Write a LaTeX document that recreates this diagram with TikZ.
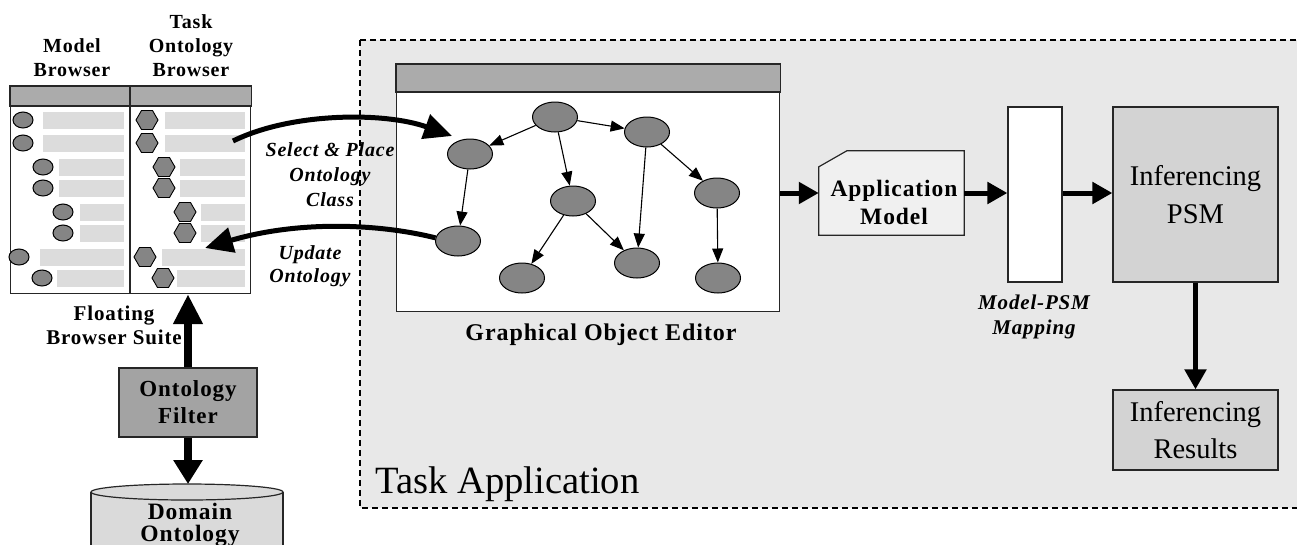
\documentclass[tikz,border=0pt]{standalone}
\usepackage{fontspec}
\setmainfont{Liberation Serif}
\newfontfamily\bl{Liberation Serif}[LetterSpace=4]
\usetikzlibrary{arrows.meta,shapes.geometric}
\definecolor{appbg}{HTML}{E8E8E8}
\definecolor{titc}{HTML}{ABABAB}
\definecolor{nodec}{HTML}{858585}
\definecolor{barc}{HTML}{DCDCDC}
\definecolor{psmc}{HTML}{D3D3D3}
\definecolor{filtc}{HTML}{A3A3A3}
\definecolor{cylc}{HTML}{DADADA}
\definecolor{appmc}{HTML}{F0F0F0}
\tikzset{
  boxline/.style={draw=black!85, line width=1.2pt},
  gnode/.style={ellipse, draw=black, line width=1pt, fill=nodec, minimum width=45pt, minimum height=30pt, inner sep=0pt},
  mnode/.style={ellipse, draw=black, line width=1pt, fill=nodec, minimum width=20pt, minimum height=16pt, inner sep=0pt},
  hnode/.style={regular polygon, regular polygon sides=6, draw=black, line width=0.9pt, fill=nodec, minimum size=22pt, inner sep=0pt},
  gedge/.style={line width=1.1pt, -{Triangle[length=14pt,width=11pt]}},
  bigarrow/.style={line width=5pt, -{Triangle[length=20pt,width=21pt]}},
  curvearrow/.style={line width=5pt, -{Triangle[length=28pt,width=25pt]}},
  vuparrow/.style={line width=7.5pt, -{Triangle[length=30pt,width=28pt]}},
  vdownarrow/.style={line width=7.5pt, -{Triangle[length=24pt,width=28pt]}},
  lblb/.style={font=\bl\bfseries\fontsize{20}{24}\selectfont, align=center, inner sep=0pt},
  lblbi/.style={font=\bl\bfseries\itshape\fontsize{20}{25}\selectfont, align=center, inner sep=0pt},
}
\begin{document}
\begin{tikzpicture}[x=1pt,y=-1pt]
\useasboundingbox (0,0) rectangle (1297,544);

% Task application area
\filldraw[fill=appbg, draw=black, line width=1.6pt, dash pattern=on 6pt off 4pt] (360,40) rectangle (1320,508);
\node[font=\fontsize{38.6}{40}\selectfont, anchor=base west, inner sep=0pt] (taskapp) at (375,493) {Task Application};

% Browser panels
\node[boxline, fill=white, minimum width=119pt, minimum height=207pt, anchor=north west, inner sep=0pt] (mbp) at (10,86) {};
\node[boxline, fill=white, minimum width=120pt, minimum height=207pt, anchor=north west, inner sep=0pt] (tbp) at (130,86) {};
\filldraw[fill=titc, draw=black!85, line width=1.2pt] (mbp.north west) rectangle ([yshift=-20pt]mbp.north east);
\filldraw[fill=titc, draw=black!85, line width=1.2pt] (tbp.north west) rectangle ([yshift=-20pt]tbp.north east);

\foreach \y/\ex/\bx [count=\i] in {120/23/43,143/23/43,167/43/59,188/43/59,212/63/80,233/63/80,257/19/40,278/42/57} {
  \fill[barc] (\bx,\y-8.5) rectangle (124,\y+8.5);
  \node[mnode] (m\i) at (\ex,\y) {};
}
\foreach \y/\hx/\bx [count=\i] in {120/147/165,143/147/165,167/164/180,188/164/180,212/185/201,233/185/201,257/145/162,278/163/177} {
  \fill[barc] (\bx,\y-8.5) rectangle (245,\y+8.5);
  \node[hnode] (t\i) at (\hx,\y) {};
}

\node[lblb] (mbl) at (72,58) {Model\\Browser};
\node[lblb] (tbl) at (191,46) {Task\\Ontology\\Browser};
\node[lblb, font=\bl\bfseries\fontsize{21}{24}\selectfont] (fbs) at (114,325) {Floating\\Browser Suite};

% Ontology filter and domain ontology
\node[boxline, fill=filtc, minimum width=138pt, minimum height=69pt, inner sep=0pt, align=center,
      font=\bl\bfseries\fontsize{23}{27}\selectfont] (filt) at (188,402.5) {Ontology\\Filter};
\begin{scope}
\clip (0,0) rectangle (1297,544);
\fill[cylc] (91,492) rectangle (283,560);
\draw[black!85, line width=1.2pt] (91,492) -- (91,560) (283,492) -- (283,560);
\filldraw[fill=cylc, draw=black!85, line width=1.2pt] (187,492) ellipse [x radius=96, y radius=8];
\end{scope}
\coordinate (domtop) at (188,484);
\node[lblb, font=\bl\bfseries\fontsize{23.5}{21.5}\selectfont] (dom) at (190,525) {Domain\\Ontology};

\draw[vuparrow] (filt.north) -- (filt.north |- tbp.south);
\draw[vdownarrow] (filt.south) -- (domtop);

% Graphical object editor window
\node[boxline, fill=white, minimum width=383pt, minimum height=247pt, anchor=north west, inner sep=0pt] (win) at (396,64) {};
\filldraw[fill=titc, draw=black!85, line width=1.2pt] (win.north west) rectangle ([yshift=-28pt]win.north east);
\node[lblb, font=\bl\bfseries\fontsize{24}{24}\selectfont] (gcap) at (601,335) {Graphical Object Editor};

\node[gnode] (nA) at (555,117) {};
\node[gnode] (nB) at (647,132) {};
\node[gnode] (nC) at (470,154) {};
\node[gnode] (nD) at (573,201) {};
\node[gnode] (nE) at (717,193) {};
\node[gnode] (nF) at (458,241) {};
\node[gnode] (nG) at (522,278) {};
\node[gnode] (nH) at (637,263) {};
\node[gnode] (nI) at (718,278) {};
\draw[gedge] (nA) -- (nC);
\draw[gedge] (nA) -- (nD);
\draw[gedge] (nA) -- (nB);
\draw[gedge] (nB) -- (nH);
\draw[gedge] (nB) -- (nE);
\draw[gedge] (nC) -- (nF);
\draw[gedge] (nD) -- (nG);
\draw[gedge] (nD) -- (nH);
\draw[gedge] (nE) -- (nI);

% curved arrows
\coordinate (selS) at (233,141);
\coordinate (selE) at (452,136);
\coordinate (updE) at (205,248);
\draw[curvearrow] (selS) .. controls (292,112) and (385,112) .. (selE);
\draw[curvearrow] (nF.172) .. controls (380,224) and (300,220) .. (updE);
\node[lblbi] (sel) at (330,175) {Select \& Place\\Ontology\\Class};
\node[lblbi, font=\bl\bfseries\itshape\fontsize{20}{23}\selectfont] (upd) at (310,266) {Update\\Ontology};

% application model
\node[minimum width=145pt, minimum height=84pt, inner sep=0pt] (appm) at (891.5,193) {};
\filldraw[fill=appmc, draw=black!85, line width=1.2pt]
  ([yshift=-16pt]appm.north west) -- ([xshift=28pt]appm.north west) -- (appm.north east)
  -- (appm.south east) -- (appm.south west) -- cycle;
\node[lblb, font=\bl\bfseries\fontsize{23.5}{28}\selectfont] (appt) at (894,202) {Application\\Model};

% mapping
\node[boxline, fill=white, minimum width=54pt, minimum height=175pt, inner sep=0pt] (map) at (1035,194.5) {};
\node[lblbi, font=\bl\bfseries\itshape\fontsize{21}{25}\selectfont] (mapl) at (1034,317) {Model-PSM\\Mapping};

% PSM
\node[boxline, fill=psmc, minimum width=165pt, minimum height=175pt, inner sep=0pt, align=center,
      font=\fontsize{28.5}{38}\selectfont] (psm) at (1195.5,194.5) {Inferencing\\PSM};
\node[boxline, fill=psmc, minimum width=165pt, minimum height=80pt, inner sep=0pt, align=center,
      font=\fontsize{28.5}{37}\selectfont] (res) at (1195.5,430) {Inferencing\\Results};

\draw[bigarrow] (win.east |- appm.west) -- (appm.west);
\draw[bigarrow] (appm.east) -- (map.west |- appm.east);
\draw[bigarrow] (map.east |- appm.east) -- (psm.west |- appm.east);
\draw[bigarrow] (psm.south) -- (res.north);
\end{tikzpicture}
\end{document}
